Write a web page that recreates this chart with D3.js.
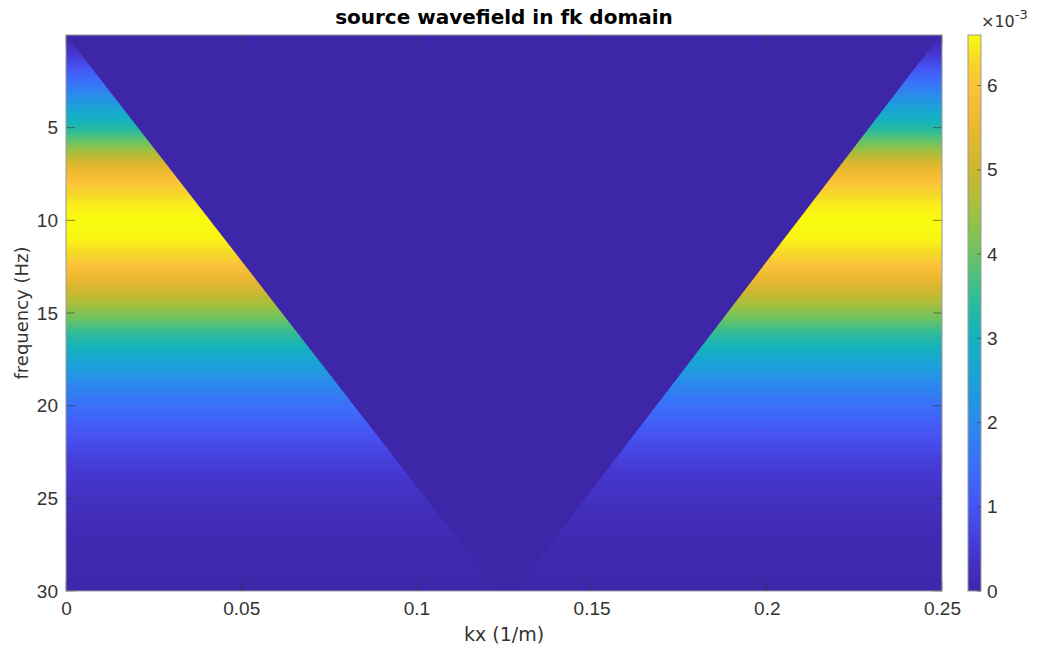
<!DOCTYPE html>
<html>
<head>
<meta charset="utf-8">
<script src="https://cdn.jsdelivr.net/npm/d3@7"></script>
<style>
  body { margin: 0; background: #fff; }
  svg { font-family: "DejaVu Sans", sans-serif; }
</style>
</head>
<body>
<div id="chart"></div>
<script>
// frequency rows (Hz) and amplitude (x1e-3)
const freqs = [0, 1, 2, 3, 4, 5, 6, 7, 8, 9, 10, 11, 12, 13, 14, 15, 16, 17, 18, 19, 20, 21, 22, 23, 24, 25, 26, 27, 28, 29, 30]
const amps = [0, 0.45, 1.15, 1.85, 2.6, 3.3, 4.2, 5.3, 6.05, 6.45, 6.6, 6.55, 6.25, 5.6, 4.95, 4.2, 3.55, 2.95, 2.4, 1.9, 1.5, 1.15, 0.85, 0.6, 0.42, 0.3, 0.2, 0.13, 0.08, 0.05, 0.03]

// edges of the zeroed wedge (kx in 1/m at a frequency)
const leftEdge = [{ f: 0, kx: 0 }, { f: 30, kx: 0.1233 }]
const rightEdge = [{ f: 0, kx: 0.2495 }, { f: 30, kx: 0.1279 }]

const xTicks = [0, 0.05, 0.1, 0.15, 0.2, 0.25]
const yTicks = [5, 10, 15, 20, 25, 30]
const cbTicks = [0, 1, 2, 3, 4, 5, 6]
const cbMax = 6.6

// parula-like colour stops
const parulaPos = [0, 0.076, 0.152, 0.227, 0.303, 0.379, 0.455, 0.53, 0.606, 0.682, 0.758, 0.833, 0.909, 0.955, 1]
const parulaCol = ["#3e26a8", "#4638d2", "#4655f4", "#3a70fa", "#2c8aec", "#1ca0d8", "#14b2c0", "#30bc98",
  "#6cc462", "#a2c040", "#cbb730", "#eab830", "#fcc23a", "#f6d72a", "#f9fb0e"]

const W = 1038, H = 651
const plot = { left: 66, right: 942, top: 35, bottom: 591 }
const axisColor = "#333333"

var color = d3.scaleLinear()
  .domain(parulaPos.map(p => p * cbMax))
  .range(parulaCol)
  .clamp(true)

var x = d3.scaleLinear().domain([0, 0.25]).range([plot.left, plot.right])
var y = d3.scaleLinear().domain([0, 30]).range([plot.top, plot.bottom])
var ampAt = d3.scaleLinear().domain(freqs).range(amps)

var svg = d3.select("#chart").append("svg")
  .attr("width", W)
  .attr("height", H)

var defs = svg.append("defs")

// vertical gradient for the spectrum
var grad = defs.append("linearGradient")
  .attr("id", "spec")
  .attr("gradientUnits", "userSpaceOnUse")
  .attr("x1", 0).attr("x2", 0)
  .attr("y1", y(0)).attr("y2", y(30))
var fSteps = d3.range(0, 30.001, 0.1)
grad.selectAll("stop")
  .data(fSteps)
  .enter()
  .append("stop")
  .attr("offset", d => d / 30)
  .attr("stop-color", d => color(ampAt(d)))

svg.append("rect")
  .attr("x", plot.left)
  .attr("y", plot.top)
  .attr("width", plot.right - plot.left)
  .attr("height", plot.bottom - plot.top)
  .attr("fill", "url(#spec)")

// zeroed wedge
var wedge = leftEdge.concat(rightEdge.slice().reverse())
svg.append("path")
  .attr("d", d3.line().x(d => x(d.kx)).y(d => y(d.f))(wedge) + "Z")
  .attr("fill", color(0))

// axes
var gx = svg.append("g")
  .attr("transform", "translate(0," + plot.bottom + ")")
  .call(d3.axisBottom(x).tickValues(xTicks).tickSize(0).tickPadding(11).tickFormat(d => String(+d.toFixed(2))))
var gy = svg.append("g")
  .attr("transform", "translate(" + plot.left + ",0)")
  .call(d3.axisLeft(y).tickValues(yTicks).tickSize(0).tickPadding(8))
;[gx, gy].forEach(g => {
  g.select(".domain").remove()
  g.selectAll("text").attr("fill", axisColor).style("font-size", "19px")
})
gx.selectAll("text").attr("dy", "0.71em")

// inward ticks on all four sides
var tl = 9
var tickSides = [
  { vals: xTicks, pos: d => [x(d), plot.bottom, x(d), plot.bottom - tl] },
  { vals: xTicks, pos: d => [x(d), plot.top, x(d), plot.top + tl] },
  { vals: yTicks, pos: d => [plot.left, y(d), plot.left + tl, y(d)] },
  { vals: yTicks, pos: d => [plot.right, y(d), plot.right - tl, y(d)] }
]
tickSides.forEach(s => {
  svg.append("g").selectAll("line")
    .data(s.vals)
    .enter()
    .append("line")
    .attr("x1", d => s.pos(d)[0]).attr("y1", d => s.pos(d)[1])
    .attr("x2", d => s.pos(d)[2]).attr("y2", d => s.pos(d)[3])
    .attr("stroke", axisColor).attr("stroke-opacity", 0.6)
})

svg.append("rect")
  .attr("x", plot.left)
  .attr("y", plot.top)
  .attr("width", plot.right - plot.left)
  .attr("height", plot.bottom - plot.top)
  .attr("fill", "none")
  .attr("stroke", "#9a9a9a")
  .attr("stroke-width", 1)

// labels
svg.append("text")
  .attr("x", (plot.left + plot.right) / 2)
  .attr("y", 24)
  .attr("text-anchor", "middle")
  .style("font-size", "20px")
  .style("font-weight", "bold")
  .attr("fill", "#000")
  .text("source wavefield in fk domain")

svg.append("text")
  .attr("x", (plot.left + plot.right) / 2)
  .attr("y", 641)
  .attr("text-anchor", "middle")
  .style("font-size", "19px")
  .attr("fill", axisColor)
  .text("kx (1/m)")

svg.append("text")
  .attr("transform", "translate(28," + (plot.top + plot.bottom) / 2 + ") rotate(-90)")
  .attr("text-anchor", "middle")
  .style("font-size", "18px")
  .attr("fill", axisColor)
  .text("frequency (Hz)")

// colorbar
var cb = { left: 968, width: 13 }
var cy = d3.scaleLinear().domain([0, cbMax]).range([plot.bottom, plot.top])
var cbGrad = defs.append("linearGradient")
  .attr("id", "cbar")
  .attr("x1", 0).attr("x2", 0)
  .attr("y1", 1).attr("y2", 0)
cbGrad.selectAll("stop")
  .data(d3.range(0, 1.0001, 0.02))
  .enter()
  .append("stop")
  .attr("offset", d => d)
  .attr("stop-color", d => color(d * cbMax))

svg.append("rect")
  .attr("x", cb.left)
  .attr("y", plot.top)
  .attr("width", cb.width)
  .attr("height", plot.bottom - plot.top)
  .attr("fill", "url(#cbar)")
  .attr("stroke", "#9a9a9a")
  .attr("stroke-width", 1)

var gc = svg.append("g")
  .attr("transform", "translate(" + (cb.left + cb.width) + ",0)")
  .call(d3.axisRight(cy).tickValues(cbTicks).tickSize(0).tickPadding(6).tickFormat(d3.format("d")))
gc.select(".domain").remove()
gc.selectAll("text").attr("fill", axisColor).style("font-size", "19px")
gc.selectAll("line.cbt")
  .data(cbTicks)
  .enter()
  .append("line")
  .attr("x1", -4).attr("x2", 0)
  .attr("y1", d => cy(d)).attr("y2", d => cy(d))
  .attr("stroke", axisColor).attr("stroke-opacity", 0.6)

var mult = svg.append("text")
  .attr("x", 981)
  .attr("y", 27)
  .style("font-size", "16px")
  .attr("fill", axisColor)
mult.append("tspan").text("\u00d710")
mult.append("tspan").attr("dy", -8).style("font-size", "13px").text("-3")
</script>
</body>
</html>
